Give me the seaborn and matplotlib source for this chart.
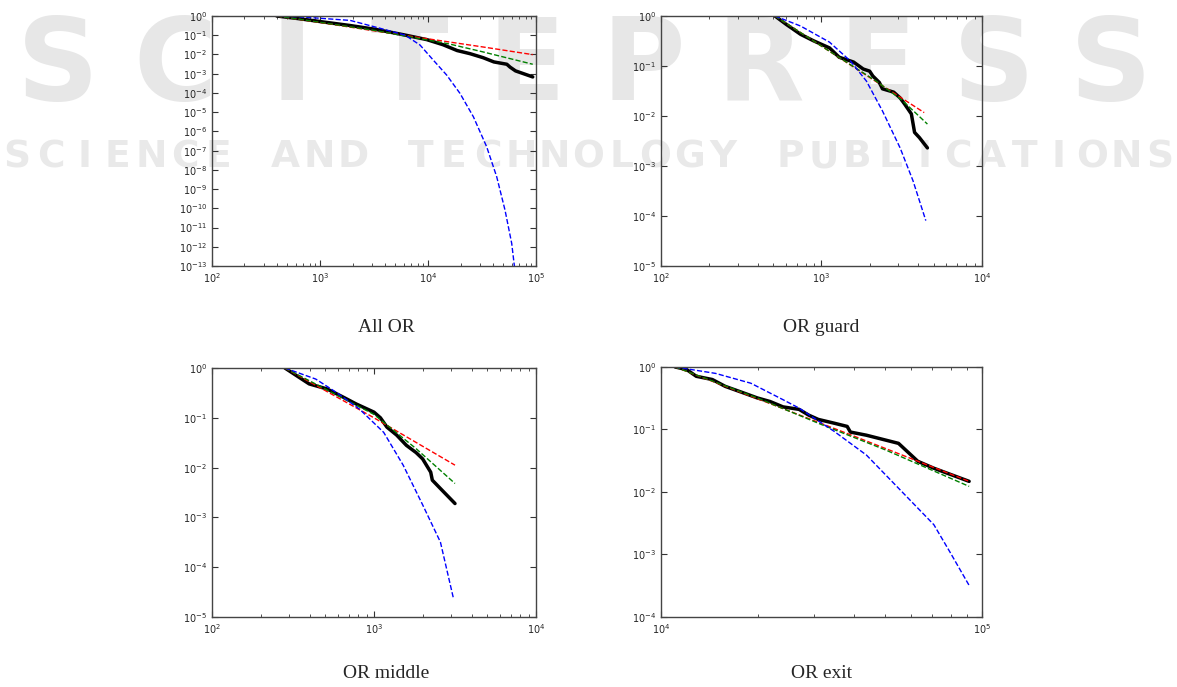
import matplotlib
matplotlib.use("Agg")
import matplotlib.pyplot as plt
import matplotlib.ticker as mticker
import seaborn as sns

# ---- data (CCDF, log-log) ----
# All OR
all_black_x = [398, 646, 1070, 1900, 3310, 5890, 9770, 13800, 18600, 24500, 32400, 40700, 53700, 57500, 64600, 93300]
all_black_y = [1.0, 0.72, 0.49, 0.32, 0.20, 0.107, 0.059, 0.032, 0.016, 0.011, 0.0068, 0.0041, 0.0031, 0.0022, 0.0014, 0.00068]
all_red_x = [398, 1000, 3160, 10000, 31600, 93300]
all_red_y = [1.0, 0.46, 0.17, 0.065, 0.025, 0.0098]
all_green_x = [398, 1000, 3160, 10000, 15800, 31600, 93300]
all_green_y = [1.0, 0.47, 0.18, 0.056, 0.035, 0.014, 0.0031]
all_blue_x = [398, 646, 1905, 3597, 6124, 8433, 11190, 14890, 19770, 26300, 34910, 43250, 51640, 59570, 64570]
all_blue_y = [1.0, 0.91, 0.59, 0.23, 0.102, 0.031, 0.0051, 8.5e-4, 9.5e-5, 5.8e-6, 1.6e-7, 4.4e-9, 8.1e-11, 1.5e-12, 3.2e-14]

# OR guard
guard_black_x = [513, 603, 741, 891, 1122, 1288, 1585, 1820, 1995, 2089, 2291, 2399, 2818, 3090, 3311, 3631, 3802, 4074, 4571]
guard_black_y = [1.0, 0.68, 0.43, 0.32, 0.23, 0.15, 0.12, 0.087, 0.079, 0.063, 0.047, 0.035, 0.030, 0.023, 0.017, 0.011, 0.0047, 0.0037, 0.0023]
guard_red_x = [513, 1000, 1995, 4365]
guard_red_y = [1.0, 0.25, 0.059, 0.0117]
guard_green_x = [513, 1000, 2188, 3162, 4571]
guard_green_y = [1.0, 0.25, 0.050, 0.021, 0.0069]
guard_blue_x = [513, 741, 1122, 1514, 1905, 2399, 3090, 3715, 4467]
guard_blue_y = [1.0, 0.63, 0.30, 0.126, 0.050, 0.0126, 0.0023, 5.1e-4, 8.1e-5]

# OR middle
middle_black_x = [282, 331, 398, 513, 646, 776, 1000, 1096, 1202, 1380, 1585, 1820, 1995, 2239, 2291, 2570, 3162]
middle_black_y = [1.0, 0.71, 0.48, 0.38, 0.26, 0.19, 0.13, 0.10, 0.065, 0.045, 0.028, 0.020, 0.015, 0.0081, 0.0056, 0.0038, 0.0019]
middle_red_x = [282, 1000, 3162]
middle_red_y = [1.0, 0.10, 0.0112]
middle_green_x = [282, 1000, 1820, 3162]
middle_green_y = [1.0, 0.117, 0.024, 0.0048]
middle_blue_x = [282, 437, 589, 813, 1148, 1514, 1995, 2570, 3090]
middle_blue_y = [1.0, 0.60, 0.32, 0.15, 0.051, 0.0112, 0.0018, 3.2e-4, 2.4e-5]

# OR exit
exit_black_x = [11070, 12020, 12880, 14450, 15850, 18200, 19950, 21880, 23990, 26920, 28840, 30900, 34670, 38020, 38900, 43650, 54950, 63100, 70800, 91200]
exit_black_y = [1.0, 0.91, 0.71, 0.63, 0.49, 0.38, 0.32, 0.28, 0.23, 0.21, 0.17, 0.145, 0.126, 0.112, 0.091, 0.081, 0.060, 0.031, 0.024, 0.0148]
exit_red_x = [11070, 20000, 40000, 91200]
exit_red_y = [1.0, 0.31, 0.078, 0.0148]
exit_green_x = [11070, 19950, 31620, 50120, 91200]
exit_green_y = [1.0, 0.32, 0.12, 0.047, 0.0123]
exit_blue_x = [11070, 14790, 19050, 23990, 26920, 34670, 43650, 54950, 70800, 79430, 91200]
exit_blue_y = [1.0, 0.79, 0.55, 0.30, 0.22, 0.093, 0.039, 0.0115, 0.0030, 0.0011, 3.2e-4]

panels = [
    ("All OR", (1e2, 1e5), (1e-13, 1e0),
     (all_black_x, all_black_y), (all_red_x, all_red_y), (all_green_x, all_green_y), (all_blue_x, all_blue_y)),
    ("OR guard", (1e2, 1e4), (1e-5, 1e0),
     (guard_black_x, guard_black_y), (guard_red_x, guard_red_y), (guard_green_x, guard_green_y), (guard_blue_x, guard_blue_y)),
    ("OR middle", (1e2, 1e4), (1e-5, 1e0),
     (middle_black_x, middle_black_y), (middle_red_x, middle_red_y), (middle_green_x, middle_green_y), (middle_blue_x, middle_blue_y)),
    ("OR exit", (1e4, 1e5), (1e-4, 1e0),
     (exit_black_x, exit_black_y), (exit_red_x, exit_red_y), (exit_green_x, exit_green_y), (exit_blue_x, exit_blue_y)),
]

watermark_top = "SCITEPRESS"
watermark_bottom = "SCIENCE AND TECHNOLOGY PUBLICATIONS"

sns.set_style("ticks")
plt.rcParams["font.family"] = ["DejaVu Sans"]

fig = plt.figure(figsize=(11.77, 6.87), dpi=100)

# faint publisher watermark, spread letter by letter across the page, behind the plots
W = 1177.0
for i, ch in enumerate(watermark_top):
    fig.text((58 + i * 117) / W, 0.90, ch, fontsize=82, fontweight="bold", color="#e7e7e7",
             ha="center", va="center", zorder=-5)
for i, ch in enumerate(watermark_bottom):
    fig.text((17 + i * 33.6) / W, 0.771, ch, fontsize=27, fontweight="bold", color="#e9e9e9",
             ha="center", va="center", zorder=-5)

boxes = [
    [0.1801, 0.6128, 0.2753, 0.3639],
    [0.5616, 0.6128, 0.2727, 0.3639],
    [0.1801, 0.1019, 0.2753, 0.3624],
    [0.5616, 0.1019, 0.2727, 0.3639],
]
caption_pos = [(0.328, 0.524), (0.698, 0.524), (0.328, 0.020), (0.698, 0.020)]

for (title, xlim, ylim, black, red, green, blue), box, cpos in zip(panels, boxes, caption_pos):
    ax = fig.add_axes(box)
    ax.set_facecolor("none")
    sns.lineplot(x=black[0], y=black[1], ax=ax, color="black", lw=2.5, estimator=None, sort=False)
    sns.lineplot(x=red[0], y=red[1], ax=ax, color="red", lw=1, linestyle="--", estimator=None, sort=False)
    sns.lineplot(x=green[0], y=green[1], ax=ax, color="green", lw=1, linestyle="--", estimator=None, sort=False)
    sns.lineplot(x=blue[0], y=blue[1], ax=ax, color="blue", lw=1, linestyle="--", estimator=None, sort=False)
    ax.set_xscale("log")
    ax.set_yscale("log")
    ax.set_xlim(*xlim)
    ax.set_ylim(*ylim)
    ax.yaxis.set_major_locator(mticker.LogLocator(base=10, numticks=30))
    ax.yaxis.set_minor_locator(mticker.NullLocator())
    ax.xaxis.set_major_locator(mticker.LogLocator(base=10, numticks=10))
    ax.xaxis.set_minor_locator(mticker.LogLocator(base=10, subs=range(2, 10), numticks=10))
    ax.xaxis.set_minor_formatter(mticker.NullFormatter())
    ax.tick_params(which="both", direction="in", top=True, right=True, labelsize=7, color="#333333")
    ax.tick_params(which="major", length=4)
    ax.tick_params(which="minor", length=2)
    for sp in ax.spines.values():
        sp.set_color("#444444")
        sp.set_linewidth(1)
    ax.set_xlabel("")
    ax.set_ylabel("")
    fig.text(cpos[0], cpos[1], title, ha="center", va="center", fontsize=14,
             family=["Liberation Serif", "DejaVu Serif"])

fig.savefig("out.png", dpi=100)
